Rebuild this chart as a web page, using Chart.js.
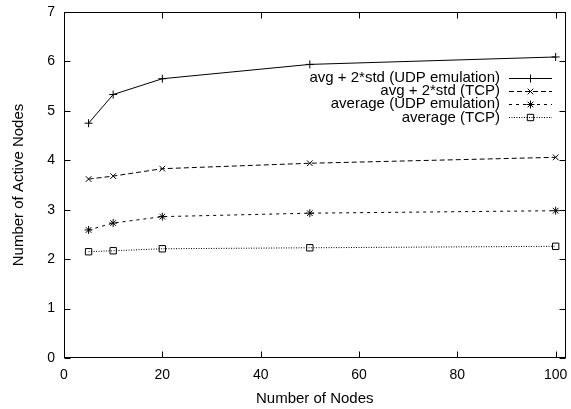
<!DOCTYPE html>
<html>
<head>
<meta charset="utf-8">
<script src="https://cdn.jsdelivr.net/npm/chart.js@4/dist/chart.umd.min.js"></script>
<style>
html,body{margin:0;padding:0;background:#fff;}
#wrap{width:571px;height:409px;position:relative;}
</style>
</head>
<body>
<div id="wrap"><canvas id="c" width="571" height="409"></canvas></div>
<script>
const nodes = [5, 10, 20, 50, 100];
const udpAvg2Std = [4.75, 5.33, 5.65, 5.94, 6.09];
const tcpAvg2Std = [3.62, 3.68, 3.83, 3.94, 4.06];
const udpAvg = [2.59, 2.73, 2.86, 2.93, 2.98];
const tcpAvg = [2.15, 2.17, 2.21, 2.23, 2.26];
const seriesLabels = ['avg + 2*std (UDP emulation)', 'avg + 2*std (TCP)', 'average (UDP emulation)', 'average (TCP)'];
const xTicks = [0, 20, 40, 60, 80, 100];
const yTicks = [0, 1, 2, 3, 4, 5, 6, 7];
const xTitle = 'Number of Nodes';
const yTitle = 'Number of Active Nodes';

const FONT = "'Liberation Sans', Arial, Helvetica, sans-serif";

function pts(ys){ return nodes.map((x,i)=>({x:x, y:ys[i]})); }

const styles = [
  {dash: [], point: 'cross', radius: 4},
  {dash: [5, 3], point: 'crossRot', radius: 4},
  {dash: [3, 4], point: 'star', radius: 4},
  {dash: [1, 1.5], point: 'rect', radius: 4.5}
];
const series = [udpAvg2Std, tcpAvg2Std, udpAvg, tcpAvg];

const datasets = series.map((s, i) => ({
  label: seriesLabels[i],
  data: pts(s),
  borderColor: '#000',
  backgroundColor: 'rgba(0,0,0,0)',
  borderWidth: 1,
  borderDash: styles[i].dash,
  pointStyle: styles[i].point,
  pointRadius: styles[i].radius,
  pointBorderWidth: 1,
  pointBorderColor: '#000',
  pointBackgroundColor: 'rgba(0,0,0,0)',
  tension: 0,
  fill: false
}));

function drawMarker(ctx, style, r, x, y){
  ctx.save();
  ctx.strokeStyle = '#000';
  ctx.lineWidth = 1;
  ctx.setLineDash([]);
  ctx.beginPath();
  if (style === 'cross' || style === 'star') {
    ctx.moveTo(x - r, y); ctx.lineTo(x + r, y);
    ctx.moveTo(x, y - r); ctx.lineTo(x, y + r);
  }
  if (style === 'crossRot' || style === 'star') {
    const d = r * Math.SQRT1_2;
    ctx.moveTo(x - d, y - d); ctx.lineTo(x + d, y + d);
    ctx.moveTo(x + d, y - d); ctx.lineTo(x - d, y + d);
  }
  if (style === 'rect') {
    const s = r * Math.SQRT1_2;
    ctx.rect(x - s, y - s, 2 * s, 2 * s);
  }
  ctx.stroke();
  ctx.restore();
}

const framePlugin = {
  id: 'frame',
  afterDatasetsDraw(chart){
    const ctx = chart.ctx;
    const a = chart.chartArea;
    const xs = chart.scales.x, ys = chart.scales.y;
    ctx.save();
    ctx.strokeStyle = '#000';
    ctx.lineWidth = 1;
    ctx.setLineDash([]);
    const L = Math.round(a.left) + 0.5, R = Math.round(a.right) - 0.5;
    const T = Math.round(a.top) + 0.5, B = Math.round(a.bottom) - 0.5;
    ctx.strokeRect(L, T, R - L, B - T);
    const tl = 6;
    ctx.beginPath();
    xTicks.forEach(v => {
      const px = Math.round(xs.getPixelForValue(v)) + 0.5;
      ctx.moveTo(px, B); ctx.lineTo(px, B - tl);
      ctx.moveTo(px, T); ctx.lineTo(px, T + tl);
    });
    yTicks.forEach(v => {
      const py = Math.round(ys.getPixelForValue(v)) + 0.5;
      ctx.moveTo(L, py); ctx.lineTo(L + tl, py);
      ctx.moveTo(R, py); ctx.lineTo(R - tl, py);
    });
    ctx.stroke();

    // legend
    const textRight = 500, lineL = 509, lineR = 552, top = 77.5, step = 13.3;
    ctx.font = '15px ' + FONT;
    ctx.fillStyle = '#000';
    ctx.textAlign = 'right';
    ctx.textBaseline = 'middle';
    chart.data.datasets.forEach((ds, i) => {
      const y = top + i * step;
      ctx.fillText(ds.label, textRight, y);
      ctx.save();
      ctx.setLineDash(ds.borderDash);
      ctx.beginPath();
      ctx.moveTo(lineL, Math.round(y) + 0.5);
      ctx.lineTo(lineR, Math.round(y) + 0.5);
      ctx.stroke();
      ctx.restore();
      drawMarker(ctx, ds.pointStyle, ds.pointRadius, (lineL + lineR) / 2, Math.round(y) + 0.5);
    });
    ctx.restore();
  }
};

new Chart(document.getElementById('c'), {
  type: 'line',
  data: { datasets },
  options: {
    responsive: false,
    animation: false,
    devicePixelRatio: 1,
    layout: { padding: { left: 0, right: 3, top: 12, bottom: 0 } },
    plugins: { legend: { display: false }, tooltip: { enabled: false } },
    scales: {
      x: {
        type: 'linear',
        min: 0, max: 102,
        afterBuildTicks(scale){ scale.ticks = xTicks.map(v => ({value: v})); },
        afterFit(scale){ scale.height = 51; scale.paddingLeft = 0; scale.paddingRight = 0; },
        grid: { display: false, drawTicks: false },
        border: { display: false },
        ticks: { color: '#000', font: { family: FONT, size: 14 }, padding: 9, maxRotation: 0, autoSkip: false },
        title: { display: true, text: xTitle, color: '#000', font: { family: FONT, size: 15 }, padding: { top: 0, bottom: 1 } }
      },
      y: {
        min: 0, max: 7,
        afterBuildTicks(scale){ scale.ticks = yTicks.map(v => ({value: v})); },
        afterFit(scale){ scale.width = 64; scale.paddingTop = 0; scale.paddingBottom = 0; },
        grid: { display: false, drawTicks: false },
        border: { display: false },
        ticks: { color: '#000', font: { family: FONT, size: 14 }, padding: 9, autoSkip: false },
        title: { display: true, text: yTitle, color: '#000', font: { family: FONT, size: 15 }, padding: { top: 10, bottom: 0 } }
      }
    }
  },
  plugins: [framePlugin]
});
</script>
</body>
</html>
